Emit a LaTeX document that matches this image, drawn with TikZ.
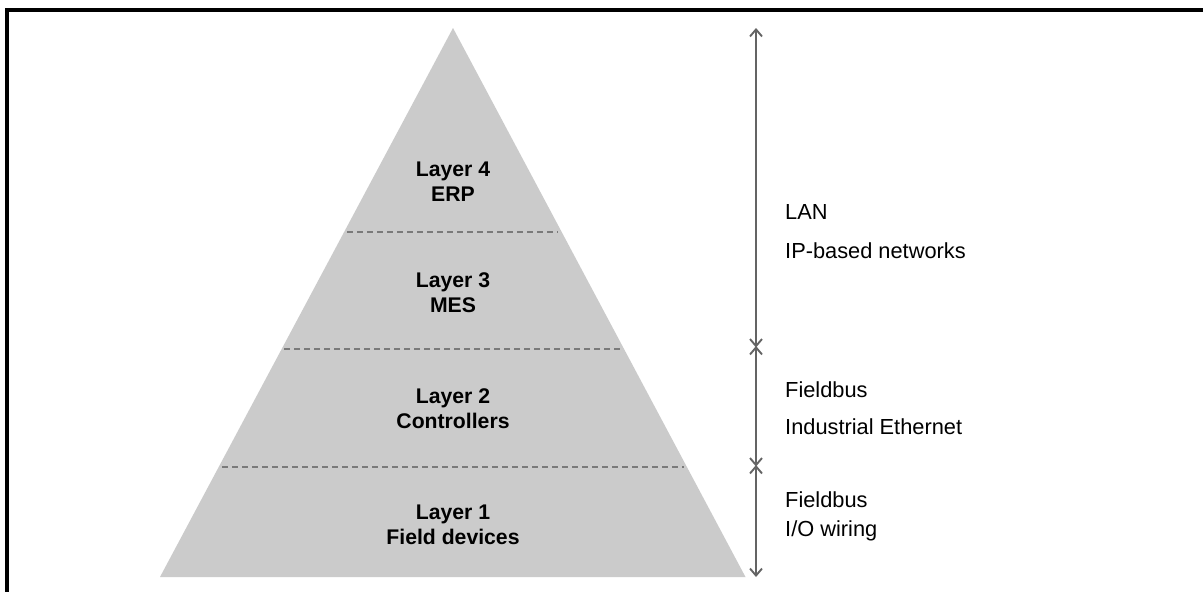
\documentclass[tikz,border=0pt]{standalone}
\usepackage{fontspec}
\setmainfont{Liberation Sans}
\usetikzlibrary{arrows.meta}
\definecolor{layerfill}{HTML}{CBCBCB}
\definecolor{sepgray}{HTML}{7A7A7A}
\definecolor{arrowgray}{HTML}{646464}
\tikzset{
  layerlabel/.style={font=\fontsize{21.2}{25}\selectfont\bfseries, align=center, text=black, inner sep=0pt},
  netlabel/.style={font=\fontsize{21.8}{26}\selectfont, anchor=base west, text=black, inner sep=0pt},
  separator/.style={draw=sepgray, line width=1.3pt, dash pattern=on 6pt off 4pt},
  span/.style={draw=arrowgray, line width=1.9pt, {Straight Barb[length=7pt,width=12pt]}-{Straight Barb[length=7pt,width=12pt]}}
}
\begin{document}
\begin{tikzpicture}[x=1pt,y=-1pt]
\useasboundingbox (0,0) rectangle (1203,592);
\fill[white] (0,0) rectangle (1203,592);
% outer frame
\draw[line width=3.2pt, line cap=rect] (7,592) -- (7,10) -- (1203,10);
% pyramid
\fill[layerfill] (453,28) -- (745.5,577) -- (160,577) -- cycle;
% layer separators
\draw[separator] (347,232) -- (558,232);
\draw[separator] (284,349) -- (622,349);
\draw[separator] (222,467) -- (684,467);
% layer labels
\node[layerlabel] (l4) at (453,182) {Layer 4\\ERP};
\node[layerlabel] (l3) at (453,293) {Layer 3\\MES};
\node[layerlabel] (l2) at (453,409) {Layer 2\\Controllers};
\node[layerlabel] (l1) at (453,525) {Layer 1\\Field devices};
% span arrows
\coordinate (a0) at (756,28);
\coordinate (a1) at (756,347.5);
\coordinate (a2) at (756,466.5);
\coordinate (a3) at (756,577);
\draw[span] (a1) -- (a0);
\draw[span] (a2) -- ([yshift=1.5pt]a1);
\draw[span] (a3) -- ([yshift=1.5pt]a2);
% network labels (positions are baselines)
\node[netlabel] (n1) at (785,219) {LAN};
\node[netlabel] (n2) at (785,258) {IP-based networks};
\node[netlabel] (n3) at (785,397) {Fieldbus};
\node[netlabel] (n4) at (785,434) {Industrial Ethernet};
\node[netlabel] (n5) at (785,507) {Fieldbus};
\node[netlabel] (n6) at (785,536) {I/O wiring};
\end{tikzpicture}
\end{document}
